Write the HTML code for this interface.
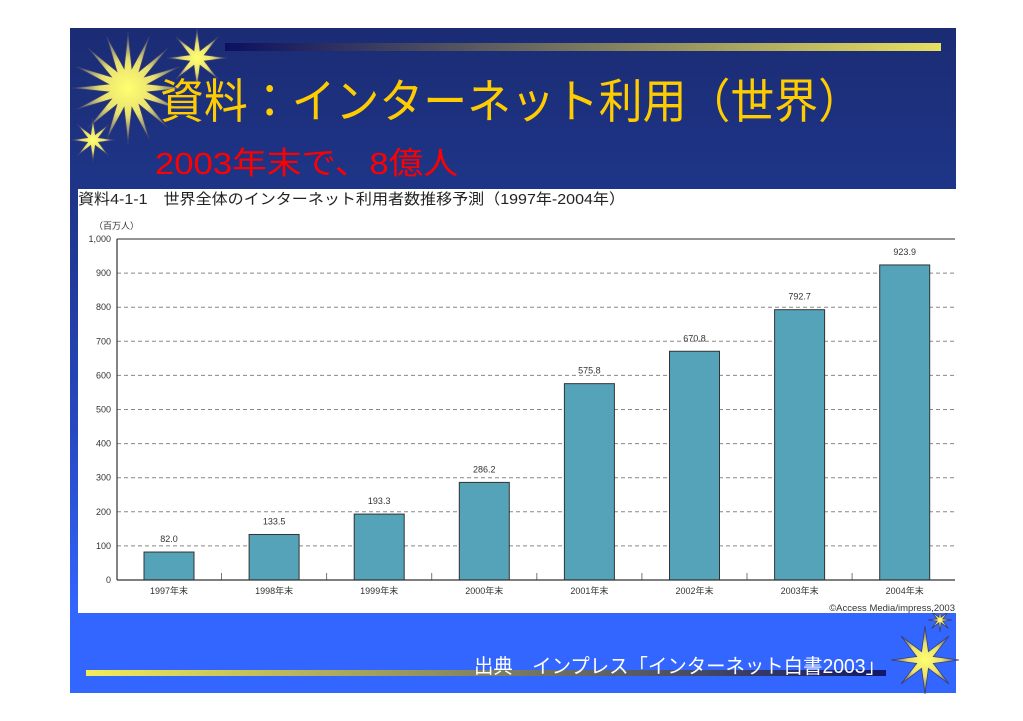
<!DOCTYPE html>
<html><head><meta charset="utf-8"><style>
html,body{margin:0;padding:0;background:#fff;width:1023px;height:721px;overflow:hidden}
svg{display:block}
text{font-family:"Liberation Sans","Noto Sans CJK JP",sans-serif}
</style></head><body>
<svg id="s" width="1023" height="721" viewBox="0 0 1023 721" xmlns="http://www.w3.org/2000/svg">
<defs>
<linearGradient id="bg" x1="0" y1="0" x2="0" y2="1">
<stop offset="0" stop-color="#1b2c74"/><stop offset="0.25" stop-color="#1e3588"/><stop offset="0.6" stop-color="#2748c0"/><stop offset="0.88" stop-color="#3366ff"/><stop offset="1" stop-color="#3366ff"/></linearGradient>
<linearGradient id="bar1" x1="0" y1="0" x2="1" y2="0"><stop offset="0" stop-color="#0c1060"/><stop offset="1" stop-color="#e8e060"/></linearGradient>
<linearGradient id="bar2" x1="0" y1="0" x2="1" y2="0"><stop offset="0" stop-color="#f2ec5a"/><stop offset="1" stop-color="#101868"/></linearGradient>
<radialGradient id="st"><stop offset="0" stop-color="#ffff70"/><stop offset="0.5" stop-color="#e8e070"/><stop offset="1" stop-color="#404a88"/></radialGradient>
</defs>
<rect x="70" y="28" width="886" height="665" fill="url(#bg)"/>
<rect x="225" y="43" width="716" height="8" fill="url(#bar1)"/>
<g id="stars"></g>
<text x="160" y="118" font-size="47" fill="#ffcc00" textLength="702" lengthAdjust="spacingAndGlyphs">資料：インターネット利用（世界）</text>
<text x="155" y="174" font-size="31" fill="#ff0000" textLength="303" lengthAdjust="spacingAndGlyphs">2003年末で、8億人</text>
<rect x="78" y="189" width="878" height="424" fill="#fff"/>
<text x="78" y="204" font-size="15" fill="#222" textLength="547" lengthAdjust="spacingAndGlyphs">資料4-1-1　世界全体のインターネット利用者数推移予測（1997年-2004年）</text>
<text x="94" y="229" font-size="9" fill="#333">（百万人）</text>
<g id="chart" font-size="9" fill="#333"></g>
<text x="955" y="611" font-size="9.5" fill="#333" text-anchor="end">©Access Media/impress,2003</text>
<rect x="86" y="670" width="800" height="6" fill="url(#bar2)"/>
<text x="474" y="673" font-size="20" fill="#fff" textLength="411" lengthAdjust="spacingAndGlyphs">出典　インプレス「インターネット白書2003」</text>
</svg>
<script>
var NS="http://www.w3.org/2000/svg";
function el(p,t,a,txt){var e=document.createElementNS(NS,t);for(var k in a)e.setAttribute(k,a[k]);if(txt!=null)e.textContent=txt;p.appendChild(e);return e;}
var c=document.getElementById("chart");
function Y(v){return 580-v*0.341;}
for(var v=100;v<=900;v+=100){el(c,"line",{x1:117,x2:955,y1:Y(v),y2:Y(v),stroke:"#888","stroke-dasharray":"4,3","stroke-width":1});}
el(c,"line",{x1:117,x2:955,y1:Y(1000),y2:Y(1000),stroke:"#555","stroke-width":1.2});
for(var v=0;v<=1000;v+=100){el(c,"text",{x:111,y:Y(v)+3,"text-anchor":"end"},v==1000?"1,000":v);}
var d=[82.0,133.5,193.3,286.2,575.8,670.8,792.7,923.9];
for(var i=0;i<8;i++){var cx=169+i*105.1;
el(c,"rect",{x:cx-25,y:Y(d[i]),width:50,height:d[i]*0.341,fill:"#55a3b8",stroke:"#333","stroke-width":1});
el(c,"text",{x:cx,y:Y(d[i])-10,"text-anchor":"middle"},d[i].toFixed(1));
el(c,"text",{x:cx,y:594,"text-anchor":"middle"},(1997+i)+"年末");
if(i<7)el(c,"line",{x1:cx+52.5,x2:cx+52.5,y1:573,y2:580,stroke:"#777"});}
el(c,"line",{x1:117,x2:117,y1:Y(1000),y2:580,stroke:"#333","stroke-width":1.2});
el(c,"line",{x1:117,x2:955,y1:580,y2:580,stroke:"#333","stroke-width":1.2});
var s=document.getElementById("stars");
function star(x,y,R,r,n){var p=[];for(var k=0;k<2*n;k++){var a=Math.PI*k/n-Math.PI/2,rr=k%2?r:R;p.push((x+rr*Math.cos(a)).toFixed(1)+","+(y+rr*Math.sin(a)).toFixed(1));}
el(s,"polygon",{points:p.join(" "),fill:"url(#st)",stroke:"#3a3f70","stroke-width":0.8});}
star(128,88,56,20,16);star(197,58,30,8,8);star(93,140,22,6,8);star(925,660,34,9,8);star(940,620,12,3,8);
</script>
</body></html>
